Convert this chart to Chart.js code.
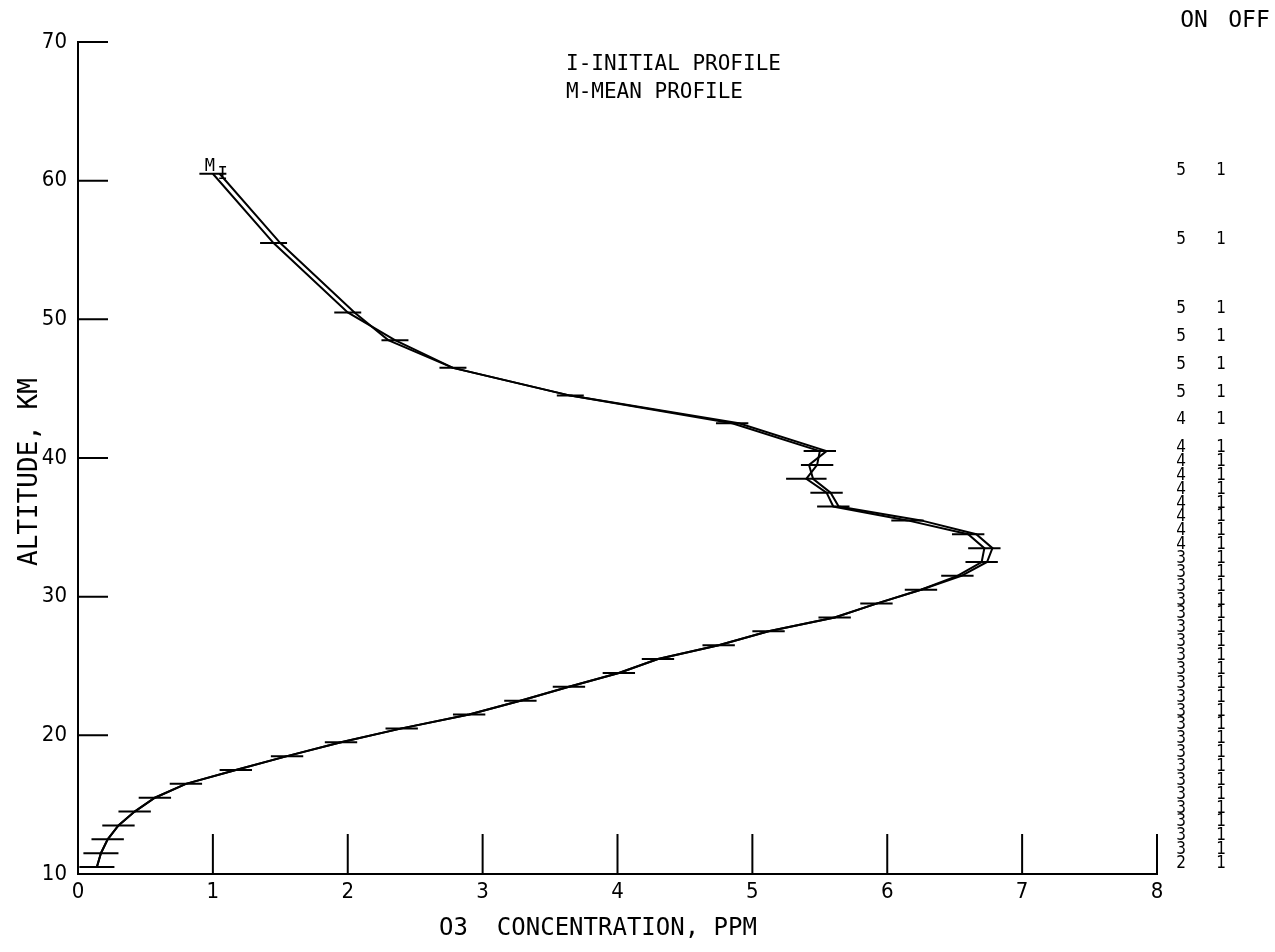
<!DOCTYPE html>
<html>
<head>
<meta charset="utf-8">
<script src="https://cdn.jsdelivr.net/npm/chart.js@4.4.1/dist/chart.umd.min.js"></script>
<style>
  html, body { margin: 0; padding: 0; background: #fff; }
  #wrap { width: 1275px; height: 952px; }
</style>
</head>
<body>
<div id="wrap"><canvas id="chart" width="1275" height="952"></canvas></div>
<script>
// ---- Data ----
const altitudes = [10.5, 11.5, 12.5, 13.5, 14.5, 15.5, 16.5, 17.5, 18.5, 19.5,
                   20.5, 21.5, 22.5, 23.5, 24.5, 25.5, 26.5, 27.5, 28.5, 29.5,
                   30.5, 31.5, 32.5, 33.5, 34.5, 35.5, 36.5, 37.5, 38.5, 39.5,
                   40.5, 42.5, 44.5, 46.5, 48.5, 50.5, 55.5, 60.5];
const initialProfile = [0.14, 0.17, 0.22, 0.30, 0.42, 0.57, 0.80, 1.17, 1.55, 1.95,
                        2.40, 2.90, 3.28, 3.64, 4.01, 4.30, 4.75, 5.12, 5.61, 5.92,
                        6.25, 6.55, 6.74, 6.78, 6.66, 6.25, 5.64, 5.58, 5.45, 5.42,
                        5.55, 4.90, 3.65, 2.78, 2.30, 2.05, 1.50, 1.05];
const meanProfile = [0.14, 0.17, 0.22, 0.30, 0.42, 0.57, 0.80, 1.17, 1.55, 1.95,
                     2.40, 2.90, 3.28, 3.64, 4.01, 4.30, 4.75, 5.12, 5.61, 5.92,
                     6.25, 6.52, 6.70, 6.72, 6.60, 6.15, 5.60, 5.55, 5.40, 5.48,
                     5.50, 4.85, 3.65, 2.78, 2.35, 2.00, 1.45, 1.00];
const errorHalf = [0.13, 0.13, 0.12, 0.12, 0.12, 0.12, 0.12, 0.12, 0.12, 0.12,
                   0.12, 0.12, 0.12, 0.12, 0.12, 0.12, 0.12, 0.12, 0.12, 0.12,
                   0.12, 0.12, 0.12, 0.12, 0.12, 0.12, 0.12, 0.12, 0.15, 0.12,
                   0.12, 0.12, 0.10, 0.10, 0.10, 0.10, 0.10, 0.10];

// ON / OFF sample counts per altitude level
const countAltitudes = [10.5, 11.5, 12.5, 13.5, 14.5, 15.5, 16.5, 17.5, 18.5, 19.5,
                        20.5, 21.5, 22.5, 23.5, 24.5, 25.5, 26.5, 27.5, 28.5, 29.5,
                        30.5, 31.5, 32.5, 33.5, 34.5, 35.5, 36.5, 37.5, 38.5, 39.5,
                        40.5, 42.5, 44.5, 46.5, 48.5, 50.5, 55.5, 60.5];
const onCounts = [2, 3, 3, 3, 3, 3, 3, 3, 3, 3,
                  3, 3, 3, 3, 3, 3, 3, 3, 3, 3,
                  3, 3, 3, 4, 4, 4, 4, 4, 4, 4,
                  4, 4, 5, 5, 5, 5, 5, 5];
const offCounts = [1, 1, 1, 1, 1, 1, 1, 1, 1, 1,
                   1, 1, 1, 1, 1, 1, 1, 1, 1, 1,
                   1, 1, 1, 1, 1, 1, 1, 1, 1, 1,
                   1, 1, 1, 1, 1, 1, 1, 1];

const xTicks = [0, 1, 2, 3, 4, 5, 6, 7, 8];
const yTicks = [10, 20, 30, 40, 50, 60, 70];

const NUM_FONT = "'Liberation Sans Narrow', 'DejaVu Sans Condensed', 'DejaVu Sans', sans-serif";
const PLOT_FONT = "'DejaVu Sans Mono', 'Liberation Mono', monospace";

const toPoints = (xs) => altitudes.map((a, i) => ({ x: xs[i], y: a }));

// ---- Plugins ----
// inward tick marks like the plotter
const innerTicks = {
    id: 'innerTicks',
    afterDatasetsDraw(chart) {
        const { ctx, scales: { x, y } } = chart;
        ctx.save();
        ctx.strokeStyle = '#000';
        ctx.lineWidth = 2;
        ctx.beginPath();
        for (const v of yTicks) {
            const py = y.getPixelForValue(v);
            ctx.moveTo(x.left, py);
            ctx.lineTo(x.left + 30, py);
        }
        for (const v of xTicks) {
            const px = x.getPixelForValue(v);
            ctx.moveTo(px, y.bottom);
            ctx.lineTo(px, y.bottom - 40);
        }
        ctx.stroke();
        ctx.restore();
    }
};

// horizontal error bars on the mean profile
const errorBars = {
    id: 'errorBars',
    afterDatasetsDraw(chart) {
        const { ctx, scales: { x, y } } = chart;
        ctx.save();
        ctx.strokeStyle = '#000';
        ctx.lineWidth = 2;
        ctx.beginPath();
        altitudes.forEach((a, i) => {
            const py = y.getPixelForValue(a);
            ctx.moveTo(x.getPixelForValue(meanProfile[i] - errorHalf[i]), py);
            ctx.lineTo(x.getPixelForValue(meanProfile[i] + errorHalf[i]), py);
        });
        ctx.stroke();
        ctx.restore();
    }
};

// texts: legend, counts columns, axis titles, curve tags
const annotations = {
    id: 'annotations',
    afterDraw(chart) {
        const { ctx, scales: { x, y } } = chart;
        ctx.save();
        ctx.fillStyle = '#000';
        ctx.textBaseline = 'alphabetic';

        // legend
        ctx.font = `21px ${PLOT_FONT}`;
        ctx.textAlign = 'left';
        ctx.fillText('I-INITIAL PROFILE', 566, 70);
        ctx.fillText('M-MEAN PROFILE', 566, 98);

        // ON / OFF header
        ctx.font = `23px ${PLOT_FONT}`;
        ctx.textAlign = 'center';
        ctx.fillText('ON', 1194, 27);
        ctx.fillText('OFF', 1249, 27);

        // counts
        ctx.font = `17px ${NUM_FONT}`;
        countAltitudes.forEach((a, i) => {
            const py = y.getPixelForValue(a) + 1;
            ctx.fillText(String(onCounts[i]), 1181, py);
            ctx.fillText(String(offCounts[i]), 1221, py);
        });

        // curve tags at the top end
        ctx.font = `17px ${PLOT_FONT}`;
        const last = altitudes.length - 1;
        ctx.fillText('M', x.getPixelForValue(meanProfile[last]) - 3, y.getPixelForValue(altitudes[last]) - 3);
        ctx.fillText('I', x.getPixelForValue(initialProfile[last]) + 3, y.getPixelForValue(altitudes[last]) + 5);

        // axis titles
        ctx.font = `24px ${PLOT_FONT}`;
        ctx.fillText('O3  CONCENTRATION, PPM', 598, 935);
        ctx.font = `26px ${PLOT_FONT}`;
        ctx.translate(37, 472);
        ctx.rotate(-Math.PI / 2);
        ctx.fillText('ALTITUDE, KM', 0, 0);
        ctx.restore();
    }
};

// ---- Config ----
const config = {
    type: 'scatter',
    data: {
        datasets: [
            {
                label: 'I-INITIAL PROFILE',
                data: toPoints(initialProfile),
                showLine: true,
                borderColor: '#000',
                borderWidth: 2,
                pointRadius: 0,
                tension: 0
            },
            {
                label: 'M-MEAN PROFILE',
                data: toPoints(meanProfile),
                showLine: true,
                borderColor: '#000',
                borderWidth: 2,
                pointRadius: 0,
                tension: 0
            }
        ]
    },
    options: {
        responsive: false,
        animation: false,
        devicePixelRatio: 1,
        layout: { padding: { left: 0, top: 42, right: 118, bottom: 0 } },
        plugins: {
            legend: { display: false },
            tooltip: { enabled: false }
        },
        scales: {
            x: {
                type: 'linear',
                min: 0,
                max: 8,
                afterFit: (s) => { s.height = 78; },
                afterBuildTicks: (s) => { s.ticks = xTicks.map(v => ({ value: v })); },
                grid: { display: false, drawTicks: false },
                border: { display: true, color: '#000', width: 2 },
                ticks: { color: '#000', padding: 5, font: { family: NUM_FONT, size: 22 } }
            },
            y: {
                type: 'linear',
                min: 10,
                max: 70,
                afterFit: (s) => { s.width = 78; },
                afterBuildTicks: (s) => { s.ticks = yTicks.map(v => ({ value: v })); },
                grid: { display: false, drawTicks: false },
                border: { display: true, color: '#000', width: 2 },
                ticks: { color: '#000', padding: 11, font: { family: NUM_FONT, size: 22 } }
            }
        }
    },
    plugins: [innerTicks, errorBars, annotations]
};

// ---- Create chart ----
new Chart(document.getElementById('chart').getContext('2d'), config);
</script>
</body>
</html>
